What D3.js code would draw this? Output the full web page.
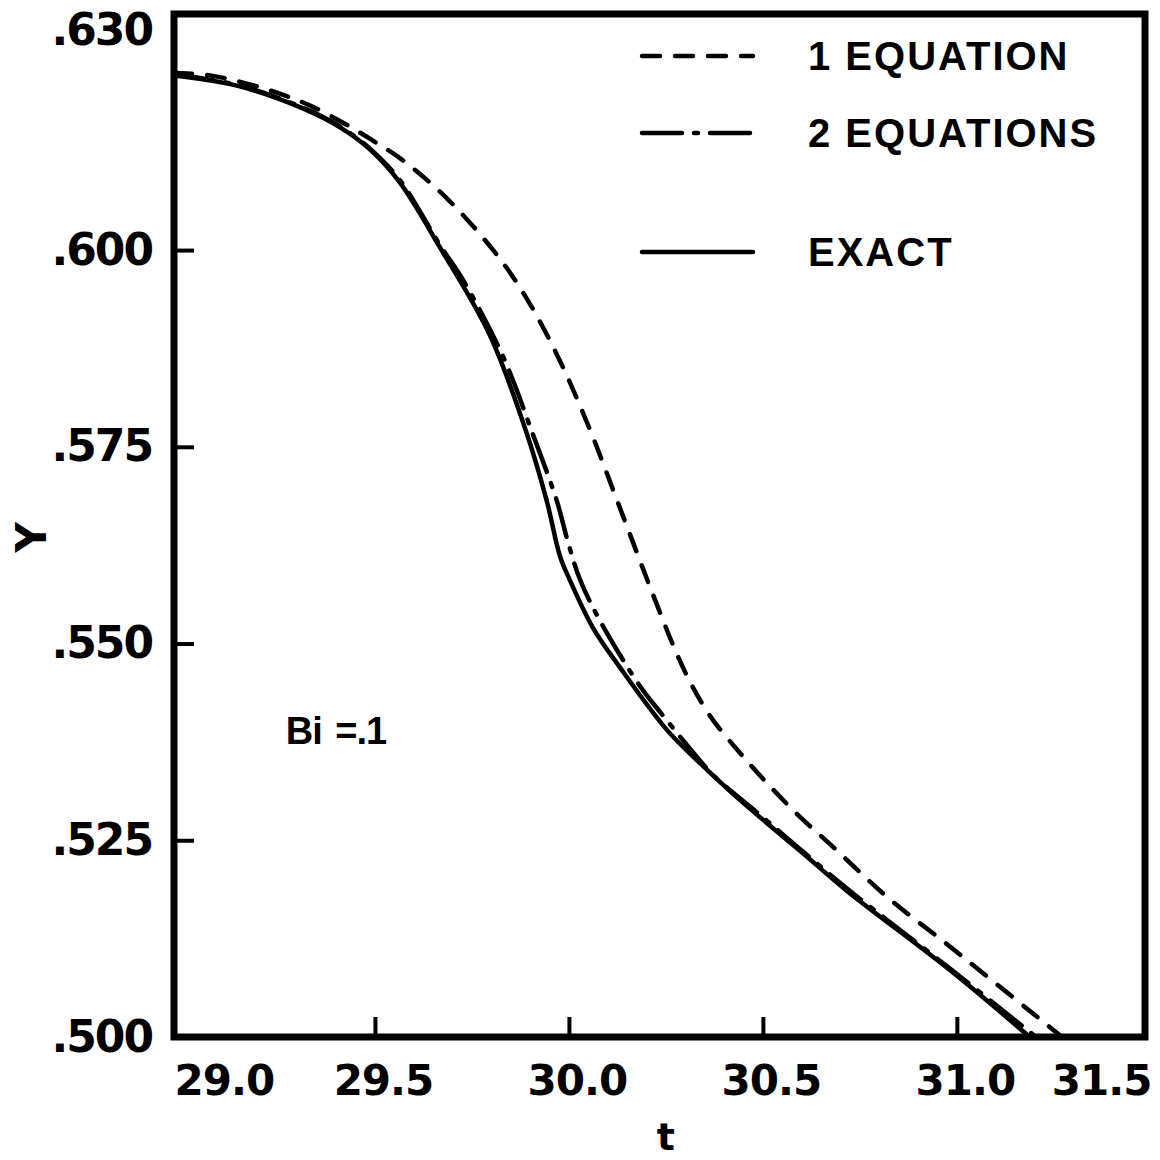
<!DOCTYPE html>
<html>
<head>
<meta charset="utf-8">
<script src="https://cdn.jsdelivr.net/npm/d3@7"></script>
<style>
  html, body { margin: 0; padding: 0; background: #fff; }
  svg { display: block; }
  text { fill: #000; }
</style>
</head>
<body>
<svg id="chart" width="1160" height="1160"></svg>
<script>
// ---------------- data ----------------
const xTickValues = [29.0, 29.5, 30.0, 30.5, 31.0, 31.5];
const xTickLabels = ["29.0", "29.5", "30.0", "30.5", "31.0", "31.5"];
const yTickValues = [0.500, 0.525, 0.550, 0.575, 0.600, 0.630];
const yTickLabels = [".500", ".525", ".550", ".575", ".600", ".630"];
const xDomain = [28.982, 31.485];
const yDomain = [0.500, 0.630];

const seriesNames = ["1 EQUATION", "2 EQUATIONS", "EXACT"];

// 1 equation (dashed)
const tOneEq = [28.982, 29.075, 29.196, 29.281, 29.340, 29.428, 29.495, 29.572, 29.693,
  29.822, 29.899, 29.977, 30.054, 30.131, 30.209, 30.278, 30.320, 30.371, 30.441, 30.510,
  30.595, 30.680, 30.820, 30.982, 31.271];
const yOneEq = [0.6225, 0.6222, 0.6208, 0.6194, 0.6182, 0.6159, 0.6139, 0.6114, 0.6062,
  0.5989, 0.5932, 0.5859, 0.5772, 0.5673, 0.5572, 0.5487, 0.5444, 0.5403, 0.5361, 0.5323,
  0.5280, 0.5242, 0.5178, 0.5115, 0.5000];

// 2 equations (dash-dot)
const tTwoEq = [28.982, 29.144, 29.314, 29.410, 29.487, 29.564, 29.668, 29.727, 29.830,
  29.907, 29.969, 29.997, 30.028, 30.080, 30.183, 30.235, 30.330, 30.371, 30.510, 30.595,
  30.716, 30.982, 31.204];
const yTwoEq = [0.6223, 0.6210, 0.6181, 0.6157, 0.6129, 0.6089, 0.6006, 0.5962, 0.5865,
  0.5766, 0.5681, 0.5630, 0.5582, 0.5529, 0.5446, 0.5413, 0.5356, 0.5333, 0.5275, 0.5239,
  0.5189, 0.5087, 0.5000];

// exact (solid)
const tExact = [28.982, 29.144, 29.314, 29.410, 29.487, 29.564, 29.668, 29.796, 29.892,
  29.943, 29.977, 30.003, 30.062, 30.131, 30.253, 30.338, 30.423, 30.510, 30.595, 30.716,
  30.982, 31.188];
const yExact = [0.6222, 0.6209, 0.6180, 0.6156, 0.6128, 0.6086, 0.6003, 0.5892, 0.5766,
  0.5681, 0.5611, 0.5580, 0.5520, 0.5470, 0.5390, 0.5348, 0.5309, 0.5272, 0.5237, 0.5186,
  0.5085, 0.5000];

const annotationText = "Bi =.1";
const xTitle = "t";
const yTitle = "Y";

// ---------------- layout & style ----------------
const plot = { left: 174, right: 1145, top: 14, bottom: 1037 };
const FONT = "'DejaVu Sans', 'Liberation Sans', sans-serif";
const FONT2 = "'Liberation Sans', 'DejaVu Sans', sans-serif";
const frameWidth = 7;
const curveWidth = 4.5;
const dashStyles = ["18,15", "40,12,4,12", null];

const svg = d3.select("#chart");
svg.append("rect").attr("width", 1160).attr("height", 1160).attr("fill", "#fff");

const x = d3.scaleLinear().domain(xDomain).range([plot.left, plot.right]);
const y = d3.scaleLinear().domain(yDomain).range([plot.bottom, plot.top]);

const seriesData = [
  tOneEq.map((t, i) => ({ t, v: yOneEq[i] })),
  tTwoEq.map((t, i) => ({ t, v: yTwoEq[i] })),
  tExact.map((t, i) => ({ t, v: yExact[i] }))
];

// curves
const line = d3.line().x(d => x(d.t)).y(d => y(d.v)).curve(d3.curveCatmullRom.alpha(0.5));
svg.append("clipPath").attr("id", "clip").append("rect")
  .attr("x", plot.left).attr("y", plot.top)
  .attr("width", plot.right - plot.left).attr("height", plot.bottom - plot.top);
const curves = svg.append("g").attr("clip-path", "url(#clip)");
seriesData.forEach((d, i) => {
  curves.append("path")
    .datum(d)
    .attr("d", line)
    .attr("fill", "none")
    .attr("stroke", "#000")
    .attr("stroke-width", curveWidth)
    .attr("stroke-linecap", "round")
    .attr("stroke-linejoin", "round")
    .attr("stroke-dasharray", dashStyles[i]);
});

// x axis (ticks point inward)
const inside = v => {
  const p = x(v);
  return p > plot.left + 12 && p < plot.right - 12;
};
const xAxis = d3.axisBottom(x)
  .tickValues(xTickValues)
  .tickFormat((d, i) => xTickLabels[i])
  .tickSizeInner(-20).tickSizeOuter(0).tickPadding(28);
const gx = svg.append("g").attr("transform", `translate(0,${plot.bottom})`).call(xAxis);
gx.select(".domain").remove();
gx.selectAll(".tick line")
  .attr("stroke", "#000").attr("stroke-width", 4)
  .style("display", d => inside(d) ? null : "none");
gx.selectAll(".tick text")
  .attr("font-family", FONT).attr("font-weight", "bold").attr("font-size", 42)
  .attr("letter-spacing", -1).attr("fill", "#000")
  .attr("dy", "0.71em").attr("dx", 8);

// y axis
const yInside = v => {
  const p = y(v);
  return p > plot.top + 12 && p < plot.bottom - 12;
};
const yAxis = d3.axisLeft(y)
  .tickValues(yTickValues)
  .tickFormat((d, i) => yTickLabels[i])
  .tickSizeInner(-20).tickSizeOuter(0).tickPadding(22);
const gy = svg.append("g").attr("transform", `translate(${plot.left},0)`).call(yAxis);
gy.select(".domain").remove();
gy.selectAll(".tick line")
  .attr("stroke", "#000").attr("stroke-width", 4)
  .style("display", d => yInside(d) ? null : "none");
gy.selectAll(".tick text")
  .attr("font-family", FONT).attr("font-weight", "bold").attr("font-size", 44)
  .attr("letter-spacing", -2).attr("fill", "#000");

// frame
svg.append("rect")
  .attr("x", plot.left).attr("y", plot.top)
  .attr("width", plot.right - plot.left).attr("height", plot.bottom - plot.top)
  .attr("fill", "none").attr("stroke", "#000").attr("stroke-width", frameWidth);

// keep end labels inside the frame's extent (as in the hand-lettered original)
const outerL = plot.left - frameWidth / 2, outerR = plot.right + frameWidth / 2;
gx.selectAll(".tick").each(function () {
  const t = d3.select(this).select("text");
  const b = t.node().getBoundingClientRect();
  let shift = 0;
  if (b.left < outerL + 4) shift = outerL + 4 - b.left;
  if (b.right > outerR + 3) shift = outerR + 3 - b.right;
  t.attr("dx", 8 + shift);
});
const outerT = plot.top - frameWidth / 2;
gy.selectAll(".tick").each(function () {
  const t = d3.select(this).select("text");
  const b = t.node().getBoundingClientRect();
  let shift = 0;
  if (b.top < outerT - 7) shift = outerT - 7 - b.top;
  t.attr("transform", `translate(0,${shift})`);
});

// axis titles
svg.append("text")
  .attr("x", x(30.25)).attr("y", 1150)
  .attr("text-anchor", "middle")
  .attr("font-family", FONT).attr("font-weight", "bold").attr("font-size", 38)
  .text(xTitle);
svg.append("text")
  .attr("transform", `translate(46,${y(0.5635)}) rotate(-90)`)
  .attr("text-anchor", "middle")
  .attr("font-family", FONT).attr("font-weight", "bold").attr("font-size", 42)
  .text(yTitle);

// annotation
svg.append("text")
  .attr("x", x(29.27)).attr("y", y(0.5372))
  .attr("font-family", FONT2).attr("font-weight", "bold").attr("font-size", 38)
  .attr("letter-spacing", -1)
  .attr("word-spacing", 4)
  .text(annotationText);

// legend
const legendRowY = [56, 133, 252];
const legendLineX = [642, 753];
const legendTextX = 808;
const legend = svg.append("g");
seriesNames.forEach((name, i) => {
  legend.append("line")
    .attr("x1", legendLineX[0]).attr("x2", legendLineX[1])
    .attr("y1", legendRowY[i]).attr("y2", legendRowY[i])
    .attr("stroke", "#000").attr("stroke-width", curveWidth)
    .attr("stroke-linecap", "round")
    .attr("stroke-dasharray", dashStyles[i]);
  legend.append("text")
    .attr("x", legendTextX).attr("y", legendRowY[i])
    .attr("dy", "0.36em")
    .attr("font-family", FONT2)
    .attr("font-weight", "bold").attr("font-size", 40)
    .attr("letter-spacing", 2)
    .text(name);
});
</script>
</body>
</html>
